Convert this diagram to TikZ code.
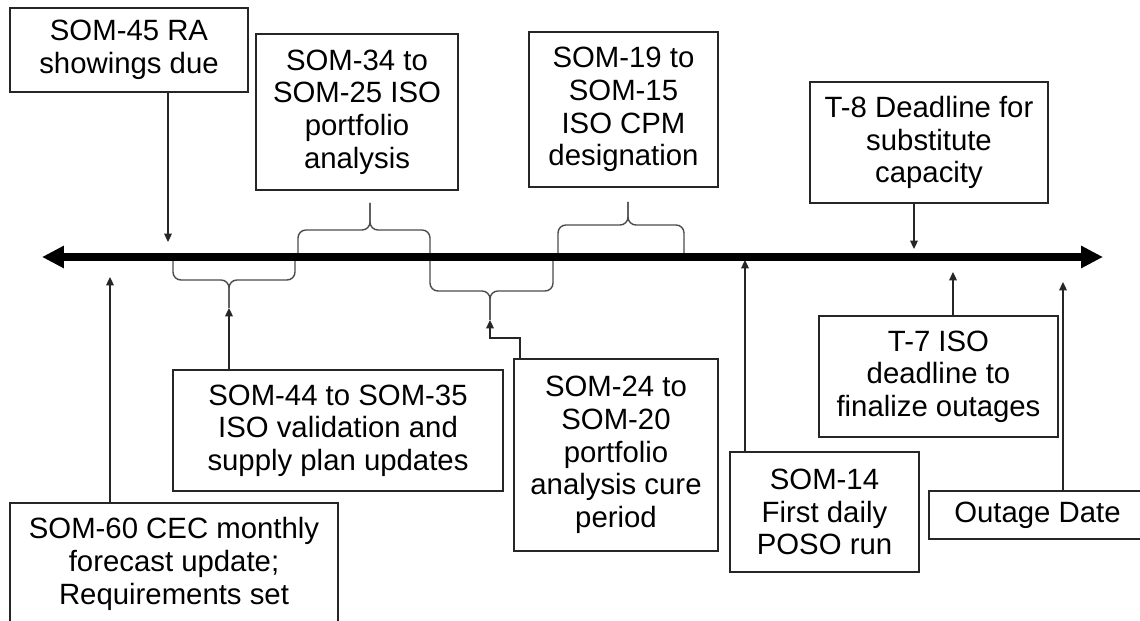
\documentclass[tikz,border=0pt]{standalone}
\usepackage{fontspec}
\setmainfont{Liberation Sans}
\usepackage{tikz}
\usetikzlibrary{arrows.meta}

\begin{document}
\begin{tikzpicture}[
    x=0.02cm, y=-0.02cm,
    every node/.style={font=\fontsize{16.7}{18.6}\selectfont},
    tbox/.style={draw=black!85, line width=0.8pt, align=center, inner sep=0pt, fill=white},
    pin/.style={-{Triangle[length=4.8pt,width=4.4pt]}, line width=0.7pt, black!85},
    brace/.style={line width=0.8pt, black!70, rounded corners=4.5pt},
    timeline/.style={{Triangle[length=12.5pt,width=12pt]}-{Triangle[length=12.5pt,width=12pt]},
                     line width=4pt}
  ]
  \clip (0,0) rectangle (1140,621);
  \fill[white] (0,0) rectangle (1140,621);

  % milestones above the line
  \node[tbox, minimum width=4.76cm, minimum height=1.68cm] (som45) at (129,50)
    {SOM-45 RA\\showings due};
  \node[tbox, minimum width=4.04cm, minimum height=3.12cm] (som34) at (357,112)
    {SOM-34 to\\SOM-25 ISO\\portfolio\\analysis};
  \node[tbox, minimum width=3.78cm, minimum height=3.10cm] (som19) at (623.5,109.5)
    {SOM-19 to\\SOM-15\\ISO CPM\\designation};
  \node[tbox, minimum width=4.76cm, minimum height=2.42cm] (t8) at (929,142.5)
    {T-8 Deadline for\\substitute\\capacity};

  % milestones below the line
  \node[tbox, minimum width=6.60cm, minimum height=2.42cm] (som44) at (338,430.5)
    {SOM-44 to SOM-35\\ISO validation and\\supply plan updates};
  \node[tbox, minimum width=6.56cm, minimum height=2.44cm] (som60) at (174,564)
    {SOM-60 CEC monthly\\forecast update;\\Requirements set};
  \node[tbox, minimum width=4.08cm, minimum height=3.84cm] (som24) at (616,455)
    {SOM-24 to\\SOM-20\\portfolio\\analysis cure\\period};
  \node[tbox, minimum width=3.78cm, minimum height=2.40cm] (som14) at (824.5,512)
    {SOM-14\\First daily\\POSO run};
  \node[tbox, minimum width=4.78cm, minimum height=2.42cm] (t7) at (938.5,376.5)
    {T-7 ISO\\deadline to\\finalize outages};
  \node[tbox, minimum width=4.34cm, minimum height=0.96cm] (outage) at (1037.5,515)
    {Outage Date};

  % period braces: left end / right end / tip x / bar y / tip y / name
  \foreach \xa/\xb/\xt/\ym/\yt/\nm in {173/295/229/280/308/b44, 298/430/370/230/203/b34,
                                       430/553/490/291/320/b24, 558/684/628/225/202/b19} {
    \coordinate (\nm) at (\xt,\yt);
    \draw[brace] (\xa,257) |- (\xt,\ym) -- (\nm);
    \draw[brace] (\xb,257) |- (\xt,\ym) -- (\nm);
  }

  % time axis
  \coordinate (tl-l) at (42,257);
  \coordinate (tl-r) at (1103,257);
  \draw[timeline] (tl-l) -- (tl-r);

  % pointers onto the axis
  \coordinate (p45) at (168,242);
  \coordinate (p60) at (110,277);
  \coordinate (p14) at (745,260);
  \coordinate (p8) at (914,249);
  \coordinate (p7) at (953,272);
  \coordinate (pod) at (1063,282);
  \coordinate (e24) at (520,338);

  \draw[pin] (som45.south -| p45) -- (p45);
  \draw[pin] (som60.north -| p60) -- (p60);
  \draw[pin] (som44.north -| b44) -- (b44);
  \draw[pin] (som24.north -| e24) -- (e24) -| (b24);
  \draw[pin] (som14.north -| p14) -- (p14);
  \draw[pin] (t8.south -| p8) -- (p8);
  \draw[pin] (t7.north -| p7) -- (p7);
  \draw[pin] (outage.north -| pod) -- (pod);
\end{tikzpicture}
\end{document}
